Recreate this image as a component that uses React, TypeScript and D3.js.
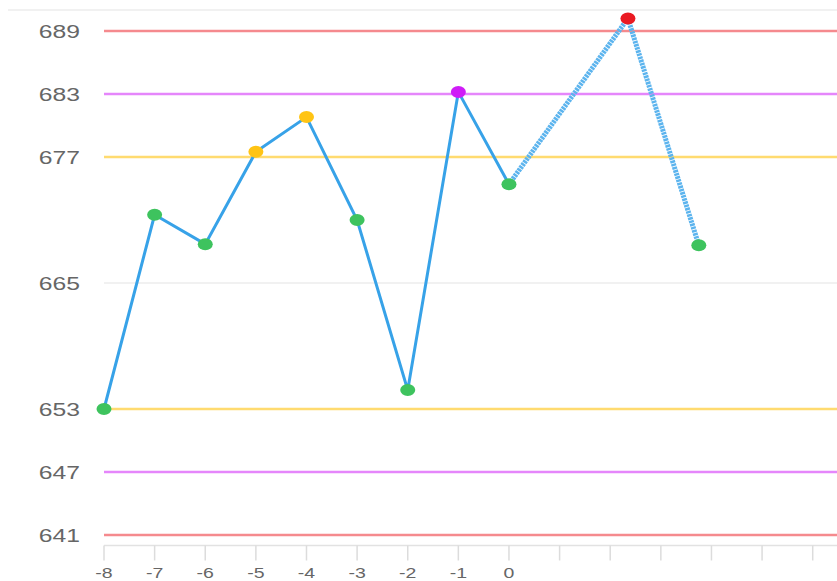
import React from "react";
import * as d3 from "d3";

// x positions of the measurements (last two fall between ticks)
const xValues = [-8, -7, -6, -5, -4, -3, -2, -1, 0, 2.35, 3.75];
const values = [653, 671.5, 668.7, 677.5, 680.8, 671, 654.8, 683.2, 674.4, 690.2, 668.6];
// the segment from this index on is drawn as the thick dotted part
const dottedFrom = 8;

const yTickLabels = [641, 647, 653, 665, 677, 683, 689];
const xTickValues = [-8, -7, -6, -5, -4, -3, -2, -1, 0, 1, 2, 3, 4, 5, 6];
const xTickLabels = ["-8", "-7", "-6", "-5", "-4", "-3", "-2", "-1", "0", "", "", "", "", "", ""];

const limitValues = [689, 683, 677, 653, 647, 641];
const limitColors = ["#f58a8e", "#e586fb", "#ffdb70", "#ffdb70", "#e586fb", "#f58a8e"];
const gridValues = [691, 665];

function pointColor(v: number) {
    if (v > 689 || v < 641) return "#ea1a22";
    if (v > 683 || v < 647) return "#cf1cf7";
    if (v > 677 || v < 653) return "#ffc414";
    return "#3ec35e";
}

export default function App() {
    const width = 837, height = 581;
    const left = 104, right = 837, top = 10, bottom = 545.5;

    //x scale
    const x = d3.scaleLinear().domain([-8, 6.48]).range([left, right]);
    //y scale
    const y = d3.scaleLinear().domain([640, 691]).range([bottom, top]);

    const pts = xValues.map((xv, i) => ({ x: xv, v: values[i] }));

    const line = d3.line<{ x: number; v: number }>()
        .x(d => x(d.x))
        .y(d => y(d.v));

    const solid = pts.slice(0, dottedFrom + 1);
    const dotted = pts.slice(dottedFrom);

    return (
        <svg width={width} height={height} style={{ position: "absolute", left: 0, top: 0, background: "#fff" }}
             fontFamily="'Liberation Sans', Arial, sans-serif">
            {/* gray gridlines */}
            {gridValues.map((g, i) => (
                <line key={"g" + i} x1={i === 0 ? 8 : left} x2={right} y1={y(g)} y2={y(g)}
                      stroke="#ececec" strokeWidth={1.5}/>
            ))}
            {/* control limits */}
            {limitValues.map((l, i) => (
                <line key={"l" + i} x1={left} x2={right} y1={y(l)} y2={y(l)}
                      stroke={limitColors[i]} strokeWidth={2.5}/>
            ))}
            {/* y labels (source image is stretched horizontally) */}
            {yTickLabels.map(t => (
                <text key={"yt" + t} transform={`translate(80,${y(t)}) scale(1.3,1)`} dy="0.36em"
                      textAnchor="end" fontSize={19} fill="#666">{t}</text>
            ))}
            {/* x axis */}
            <line x1={left} x2={right} y1={bottom} y2={bottom} stroke="#e2e2e2" strokeWidth={1.5}/>
            {xTickValues.map((t, i) => (
                <g key={"xt" + t} transform={`translate(${x(t)},${bottom})`}>
                    <line y1={0} y2={15} stroke="#dcdcdc" strokeWidth={1.5}/>
                    <text transform="translate(0,27) scale(1.3,1)" dy="0.36em" textAnchor="middle"
                          fontSize={15} fill="#666">{xTickLabels[i]}</text>
                </g>
            ))}
            {/* series */}
            <path d={line(solid) || ""} fill="none" stroke="#37a2e8" strokeWidth={3}/>
            <path d={line(dotted) || ""} fill="none" stroke="#5cb4ee" strokeWidth={5}
                  strokeDasharray="2.5 0.8"/>
            {pts.map((p, i) => (
                <ellipse key={"p" + i} cx={x(p.x)} cy={y(p.v)} rx={7.5} ry={6} fill={pointColor(p.v)}/>
            ))}
        </svg>
    );
}
